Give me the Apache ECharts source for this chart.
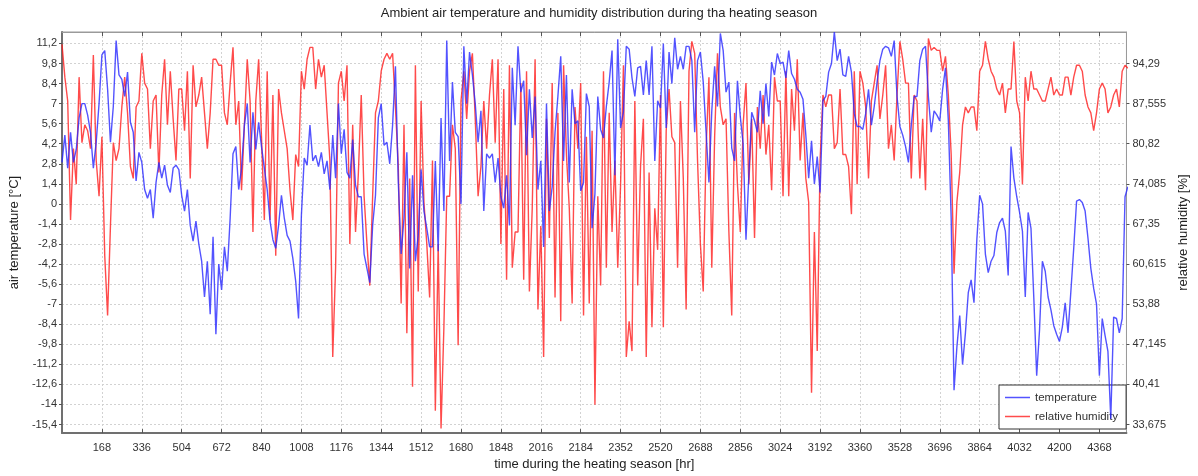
<!DOCTYPE html>
<html>
<head>
<meta charset="utf-8">
<script src="https://cdn.jsdelivr.net/npm/echarts@6/dist/echarts.min.js"></script>
<style>
  html, body { margin: 0; padding: 0; background: #fff; }
  #chart { width: 1198px; height: 476px; }
</style>
</head>
<body>
<div id="chart"></div>
<script>
// Hourly series sampled every 12 hours over the heating season.
const STEP_HR = 12;

// Ambient air temperature [°C]
const temperature = [
  2.9, 4.8, 2.5, 5.0, 2.9, 3.8, 6.0, 7.0, 7.0, 6.2,
  5.0, 2.5, 4.3, 7.0, 10.4, 10.7, 8.0, 4.3, 6.8, 11.4,
  9.0, 8.7, 7.5, 9.2, 5.7, 5.0, 1.6, 3.6, 2.9, 1.0,
  0.4, 1.0, -1.0, 1.5, 2.9, 1.8, 2.7, 1.3, 0.8, 2.5,
  2.7, 2.4, 0.6, -0.5, 1.0, -1.5, -2.6, -1.2, -2.8, -4.0,
  -6.5, -4.0, -7.7, -2.3, -9.1, -4.2, -6.0, -3.0, -4.7, -1.0,
  3.5, 4.0, 1.0, 2.5, 5.5, 7.0, 2.9, 6.4, 3.8, 5.7,
  4.0, 2.5, 1.0, -1.2, -2.5, -3.1, -1.5, 0.6, -1.0, -2.2,
  -2.6, -3.8, -5.4, -8.0, -0.8, 3.2, 2.7, 5.5, 3.0, 3.4,
  2.6, 3.6, 2.1, 3.0, 1.0, 4.8, 1.8, 7.0, 3.5, 5.2,
  2.2, 1.8, 4.5, 1.3, 0.5, 0.5, -3.5, -4.5, -5.5, -1.5,
  0.6, 6.0, 7.0, 4.1, 4.3, 2.8, 5.5, 9.6, 1.5, -3.5,
  -1.0, 3.6, -4.5, 2.0, -4.0, -2.2, 2.4, -0.5, -1.7, -3.0,
  -3.0, 3.0, -3.3, 6.0, -0.5, 11.4, 3.0, 8.5, 5.0, 4.7,
  0.0, 11.0, 7.0, 10.6, 9.0, 7.0, 4.3, 6.5, -0.5, 3.5,
  3.2, 3.5, 1.5, 3.2, 0.5, -0.3, 2.0, -1.5, 9.5, 5.5,
  11.0, 7.8, 8.6, 3.4, 8.0, 4.6, 7.5, 1.0, 3.0, -3.0,
  7.0, -0.5, 1.2, 5.0, 7.5, 10.3, 3.0, 9.0, 1.5, 8.0,
  5.6, 5.8, 0.9, 1.5, 7.7, 6.8, -1.7, 0.7, 7.5, 5.2,
  4.6, 6.8, 8.5, 10.7, 2.0, 11.5, 5.3, 6.4, 11.0, 10.8,
  8.8, 7.5, 9.5, 9.6, 7.6, 10.0, 7.6, 11.0, 3.0, 7.2,
  6.7, 11.2, 5.3, 10.6, 8.4, 11.6, 9.4, 10.3, 9.4, 11.0,
  11.0, 10.0, 5.0, 10.0, 10.6, 8.5, 5.0, 1.5, 6.5, 9.6,
  6.8, 11.9, 10.7, 7.8, 8.5, 3.9, 3.0, 8.6, 6.1, 4.2,
  -2.5, 2.0, 6.4, 5.8, 5.0, 7.9, 5.6, 8.4, 6.1, 9.9,
  9.0, 10.5, 9.8, 9.9, 8.8, 10.7, 9.1, 8.7, 8.0, 7.8,
  7.3, 4.8, 1.8, 4.4, 1.4, 3.3, 0.8, 7.2, 7.5, 9.2,
  9.8, 12.0, 10.0, 10.8, 9.0, 8.9, 10.3, 9.2, 6.3, 5.4,
  5.4, 5.2, 6.3, 8.0, 5.5, 6.8, 8.5, 10.0, 10.8, 11.0,
  10.9, 10.3, 11.4, 7.5, 5.4, 4.8, 4.0, 2.9, 5.5, 7.5,
  7.5, 10.0, 10.8, 11.0, 7.5, 5.0, 6.5, 6.2, 5.8, 8.0,
  9.5, 5.8, -1.0, -13.0, -10.0, -7.8, -11.2, -9.0, -6.2, -5.3,
  -6.9, -2.5, 0.6, 0.0, -3.5, -4.8, -4.0, -3.6, -2.0, -1.3,
  -1.0, -1.9, -5.0, 4.0, 1.8, 0.5, -0.6, -1.9, -6.5, -0.6,
  -1.7, -6.6, -12.0, -8.8, -4.0, -4.7, -6.5, -7.4, -8.5, -9.1,
  -9.6, -8.6, -6.9, -9.0, -6.1, -3.1, 0.2, 0.3, 0.1, -0.5,
  -2.4, -4.5, -5.9, -7.0, -12.0, -8.0, -9.2, -10.3, -15.0, -7.9,
  -8.0, -9.0, -8.0, 0.5, 1.2
];

// Relative humidity [%]
const humidity = [
  97.5, 92, 88, 68, 80, 74, 92, 81, 84, 83,
  80, 95.7, 78, 72, 82, 62, 52, 67, 81, 78,
  80, 87, 92, 86, 77, 75, 87, 88, 96, 91,
  90, 80, 88, 89, 76, 89, 95, 84, 93, 85,
  78, 90, 90, 83, 93, 75, 94, 87, 89, 92,
  86, 80, 86, 95, 95, 94, 94, 86, 84, 91,
  97, 84, 88, 73, 84, 95, 88, 66, 88, 95,
  82, 68, 93, 68, 89, 62, 90, 86, 83, 80,
  73, 68, 79, 77, 93, 90, 95, 97, 97, 90,
  95, 92, 94, 86, 78, 45, 60, 91, 93, 88,
  94, 64, 84, 66, 76, 89, 72, 64, 57, 72,
  86, 88, 93, 95, 96, 95, 96, 87, 77, 54,
  84, 49, 75, 40, 94, 56, 88, 71, 64, 55,
  78, 36, 64, 33, 50, 72, 72, 84, 80, 47,
  88, 93, 85, 93, 96, 85, 72, 77, 88, 80,
  89, 95, 81, 95, 64, 90, 58, 94, 60, 66,
  66, 91, 58, 93, 56, 70, 95, 53, 67, 45,
  85, 65, 91, 55, 86, 51, 94, 79, 70, 54,
  87, 80, 91, 52, 82, 54, 83, 37, 72, 57,
  93, 60, 86, 66, 78, 60, 74, 94, 45, 51,
  46, 88, 57, 77, 85, 45, 76, 50, 70, 63,
  89, 50, 83, 90, 82, 81, 60, 88, 75, 53,
  93, 98, 96, 78, 64, 56, 80, 92, 60, 82,
  96, 87, 84, 85, 66, 52, 86, 74, 66, 84,
  91, 74, 85, 65, 87, 80, 89, 79, 84, 73,
  92, 88, 88, 72, 93, 72, 90, 83, 95, 78,
  86, 75, 71, 39, 66, 46, 78, 89, 87, 89,
  89, 80, 81, 90, 79, 79, 77, 69, 93, 74,
  93, 91, 87, 75, 88, 91, 94, 85, 89, 94,
  80, 84, 78, 89, 98, 95, 91, 91, 75, 89,
  88, 75, 85, 73, 98.5, 96.5, 97, 96.5, 96.5, 93,
  95.5, 89, 79, 59, 71, 76, 84, 87, 86, 87,
  87, 83, 93, 94, 98, 95, 93, 92, 90, 89,
  91, 86, 90, 90, 98, 88, 86, 74, 92, 88,
  93, 90, 90, 89, 88, 88, 90, 92, 89, 90,
  89, 89, 92, 92, 89, 92, 94, 94, 93, 89,
  87, 86, 83, 86, 90, 91, 90, 86, 87, 89,
  90, 87, 93, 94, 93.5
];

// Tick positions / labels
const hourTicks = [168, 336, 504, 672, 840, 1008, 1176, 1344, 1512, 1680, 1848, 2016, 2184,
  2352, 2520, 2688, 2856, 3024, 3192, 3360, 3528, 3696, 3864, 4032, 4200, 4368];
const tempTicks = [-15.4, -14, -12.6, -11.2, -9.8, -8.4, -7, -5.6, -4.2, -2.8, -1.4, 0,
  1.4, 2.8, 4.2, 5.6, 7, 8.4, 9.8, 11.2];
const humTicks = [33.675, 40.41, 47.145, 53.88, 60.615, 67.35, 74.085, 80.82, 87.555, 94.29];

// Axis extents (humidity axis is tied linearly to the temperature axis)
const HOURS_MAX = 4482;
const TEMP_MIN = -16, TEMP_MAX = 12;
const HUM_PER_DEG = 6.735 / 2.8;
const HUM_MIN = 33.675 + (TEMP_MIN + 15.4) * HUM_PER_DEG;
const HUM_MAX = 33.675 + (TEMP_MAX + 15.4) * HUM_PER_DEG;

const BLUE = 'rgba(40,40,255,0.8)';
const RED = 'rgba(255,30,30,0.8)';
const FONT = '"Liberation Sans", Arial, Helvetica, sans-serif';
const LABEL = { fontFamily: FONT, fontSize: 11, color: '#333' };
const comma = v => String(v).replace('.', ',');
const toPoints = arr => arr.map((v, i) => [i * STEP_HR, v]);
const gridLine = { show: true, lineStyle: { color: '#d2d2d2', type: [2, 2], width: 1 } };

const chart = echarts.init(document.getElementById('chart'), null, { renderer: 'canvas' });
chart.setOption({
  animation: false,
  backgroundColor: '#ffffff',
  title: {
    text: 'Ambient air temperature and humidity distribution during tha heating season',
    left: 'center', top: 2,
    textStyle: { fontFamily: FONT, fontSize: 13, fontWeight: 'normal', color: '#222' }
  },
  grid: { left: 62, right: 61, top: 32, bottom: 39, show: true, borderColor: '#9a9a9a', borderWidth: 1 },
  legend: {
    data: [
      { name: 'temperature', icon: 'rect', itemStyle: { color: BLUE } },
      { name: 'relative humidity', icon: 'rect', itemStyle: { color: RED } }
    ],
    orient: 'vertical', left: 999, top: 385, z: 4,
    itemWidth: 25, itemHeight: 1.5, itemGap: 6,
    padding: [6, 8, 6, 6],
    backgroundColor: '#fff', borderColor: '#333', borderWidth: 1, borderRadius: 0,
    textStyle: { fontFamily: FONT, fontSize: 11.5, color: '#333', lineHeight: 13 }
  },
  xAxis: [{
    type: 'value', min: 0, max: HOURS_MAX, position: 'bottom',
    name: 'time during the heating season [hr]', nameLocation: 'middle', nameGap: 24,
    nameTextStyle: { fontFamily: FONT, fontSize: 13, color: '#222' },
    axisLine: { show: true, onZero: false, lineStyle: { color: '#707070', width: 2 } },
    axisTick: { show: true, inside: true, length: 4, customValues: hourTicks, lineStyle: { color: '#555' } },
    axisLabel: Object.assign({ customValues: hourTicks, margin: 9, formatter: v => String(v) }, LABEL),
    splitLine: gridLine
  }, {
    type: 'value', min: 0, max: HOURS_MAX, position: 'top',
    axisLine: { show: true, onZero: false, lineStyle: { color: '#9a9a9a', width: 1 } },
    axisTick: { show: true, inside: true, length: 4, customValues: hourTicks, lineStyle: { color: '#555' } },
    axisLabel: { show: false },
    splitLine: { show: false }
  }],
  yAxis: [{
    type: 'value', min: TEMP_MIN, max: TEMP_MAX, position: 'left',
    name: 'air temperature [°C]', nameLocation: 'middle', nameGap: 33, nameRotate: 90,
    nameTextStyle: { fontFamily: FONT, fontSize: 13, color: '#222' },
    axisLine: { show: true, onZero: false, lineStyle: { color: '#707070', width: 2 } },
    axisTick: { show: true, inside: false, length: 3, customValues: tempTicks, lineStyle: { color: '#555' } },
    axisLabel: Object.assign({ customValues: tempTicks, margin: 5, formatter: comma }, LABEL),
    splitLine: gridLine
  }, {
    type: 'value', min: HUM_MIN, max: HUM_MAX, position: 'right',
    name: 'relative humidity [%]', nameLocation: 'middle', nameGap: 50, nameRotate: 90,
    nameTextStyle: { fontFamily: FONT, fontSize: 13, color: '#222' },
    axisLine: { show: true, onZero: false, lineStyle: { color: '#9a9a9a', width: 1 } },
    axisTick: { show: true, inside: false, length: 3, customValues: humTicks, lineStyle: { color: '#555' } },
    axisLabel: Object.assign({ customValues: humTicks, margin: 6, formatter: comma }, LABEL),
    splitLine: { show: false }
  }],
  series: [{
    name: 'temperature', type: 'line', xAxisIndex: 0, yAxisIndex: 0, z: 5,
    data: toPoints(temperature), symbol: 'none', showSymbol: false,
    lineStyle: { color: BLUE, width: 1.4 },
    itemStyle: { color: BLUE }
  }, {
    name: 'relative humidity', type: 'line', xAxisIndex: 0, yAxisIndex: 1, z: 3,
    data: toPoints(humidity), symbol: 'none', showSymbol: false,
    lineStyle: { color: RED, width: 1.4 },
    itemStyle: { color: RED }
  }]
});
</script>
</body>
</html>
